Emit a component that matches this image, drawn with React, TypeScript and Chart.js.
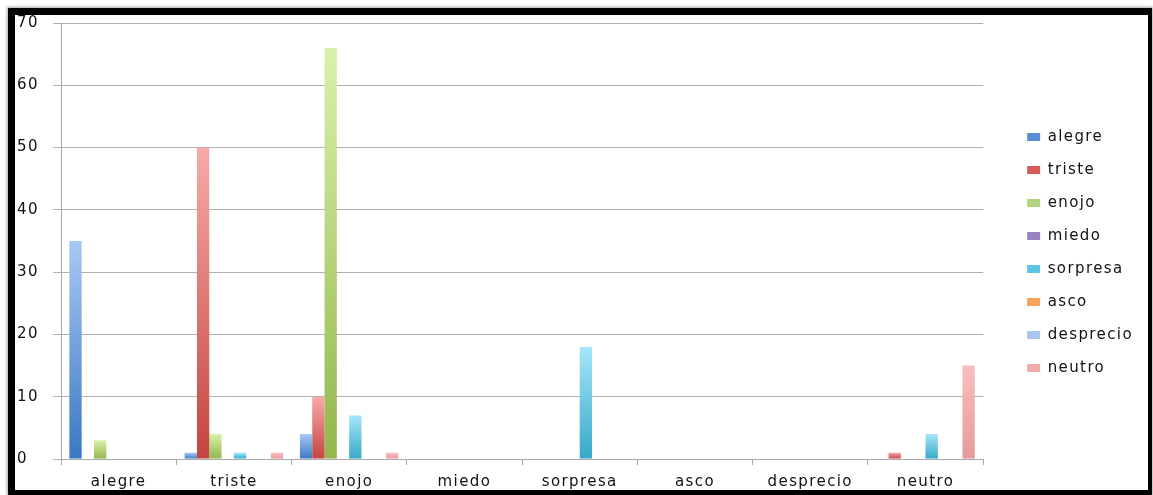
import React, { useEffect, useRef } from "react";
import { Chart, registerables } from "chart.js";

Chart.register(...registerables);

const categories = ["alegre", "triste", "enojo", "miedo", "sorpresa", "asco", "desprecio", "neutro"];
const seriesNames = ["alegre", "triste", "enojo", "miedo", "sorpresa", "asco", "desprecio", "neutro"];

const alegreValues = [35, 1, 4, 0, 0, 0, 0, 0];
const tristeValues = [0, 50, 10, 0, 0, 0, 0, 1];
const enojoValues = [3, 4, 66, 0, 0, 0, 0, 0];
const miedoValues = [0, 0, 0, 0, 0, 0, 0, 0];
const sorpresaValues = [0, 1, 7, 0, 18, 0, 0, 4];
const ascoValues = [0, 0, 0, 0, 0, 0, 0, 0];
const desprecioValues = [0, 0, 0, 0, 0, 0, 0, 0];
const neutroValues = [0, 1, 1, 0, 0, 0, 0, 15];

const seriesValues = [
  alegreValues,
  tristeValues,
  enojoValues,
  miedoValues,
  sorpresaValues,
  ascoValues,
  desprecioValues,
  neutroValues,
];

const topColors = ["#a9c8f4", "#f7aaa8", "#d8f2ab", "#bba6da", "#a6e6fa", "#fcc690", "#cadcf8", "#fabebe"];
const bottomColors = ["#3a78c2", "#c4453f", "#93b64c", "#7659a0", "#36a8c7", "#f0862a", "#8fb1e3", "#e49a9a"];
const legendColors = ["#5b8fd2", "#d65c56", "#b3d37c", "#9a82c2", "#5ec6e2", "#f9a25a", "#aac6ef", "#f2aaaa"];

const yMin = 0;
const yMax = 70;
const yStep = 10;

const FONT = "'DejaVu Sans', sans-serif";
const SPACING = "1.4px";

const spacingPlugin = {
  id: "spacing",
  beforeUpdate(chart: any) {
    chart.ctx.letterSpacing = SPACING;
  },
  beforeLayout(chart: any) {
    chart.ctx.letterSpacing = SPACING;
  },
  beforeDraw(chart: any) {
    chart.ctx.letterSpacing = SPACING;
  },
};

export default function App() {
  const canvasRef = useRef<HTMLCanvasElement | null>(null);

  useEffect(() => {
    if (!canvasRef.current) return;
    const datasets = seriesNames.map((name, i) => ({
      label: name,
      data: seriesValues[i],
      backgroundColor: (ctx: any) => {
        const chart = ctx.chart;
        if (ctx.type !== "data" || !chart.chartArea || !chart.scales.y) return legendColors[i];
        const y = chart.scales.y;
        const top = y.getPixelForValue(ctx.raw);
        const bottom = y.getPixelForValue(0);
        if (bottom - top < 1) return legendColors[i];
        const g = chart.ctx.createLinearGradient(0, top, 0, bottom);
        g.addColorStop(0, topColors[i]);
        g.addColorStop(1, bottomColors[i]);
        return g;
      },
      borderWidth: 0,
      barPercentage: 1,
      categoryPercentage: 0.855,
    }));

    const chart = new Chart(canvasRef.current, {
      type: "bar",
      data: { labels: categories, datasets },
      plugins: [spacingPlugin],
      options: {
        animation: false,
        responsive: true,
        maintainAspectRatio: false,
        layout: { padding: { left: 2, right: 5, top: 0, bottom: 0 } },
        plugins: {
          tooltip: { enabled: false },
          legend: {
            position: "right",
            labels: {
              font: { family: FONT, size: 15 },
              color: "#111",
              boxWidth: 13,
              boxHeight: 8,
              padding: 18,
              generateLabels: () =>
                seriesNames.map((name, i) => ({
                  text: name,
                  fillStyle: legendColors[i],
                  strokeStyle: legendColors[i],
                  lineWidth: 0,
                  hidden: false,
                  datasetIndex: i,
                  fontColor: "#111",
                })),
            },
          },
        },
        scales: {
          x: {
            grid: {
              offset: true,
              drawOnChartArea: false,
              drawTicks: true,
              tickLength: 6,
              color: "#a8a8a8",
            },
            border: { color: "#a8a8a8" },
            ticks: { font: { family: FONT, size: 15 }, color: "#111", padding: 8 },
            afterFit: (s: any) => {
              s.height = 31;
            },
          },
          y: {
            min: yMin,
            max: yMax,
            ticks: {
              stepSize: yStep,
              crossAlign: "far",
              font: { family: FONT, size: 15 },
              color: "#111",
            },
            grid: { color: "#b0b0b0", tickLength: 8 },
            border: { color: "#a8a8a8" },
            afterFit: (s: any) => {
              s.width = 44;
              s.paddingTop = 8;
            },
          },
          y2: {
            position: "right",
            display: true,
            grid: { display: false, drawTicks: false },
            border: { display: false },
            ticks: { display: false },
            afterFit: (s: any) => {
              s.width = 26;
            },
          },
        },
      },
    });
    return () => chart.destroy();
  }, []);

  return (
    <div
      style={{
        position: "fixed",
        left: 8,
        top: 8,
        width: 1144,
        height: 487,
        boxSizing: "border-box",
        borderStyle: "solid",
        borderColor: "#000",
        borderTopWidth: 7,
        borderLeftWidth: 7,
        borderRightWidth: 4,
        borderBottomWidth: 5,
        boxShadow: "0 0 3px 1px rgba(0,0,0,0.35)",
        background: "#fff",
      }}
    >
      <div style={{ position: "relative", width: 1133, height: 475 }}>
        <canvas ref={canvasRef} />
      </div>
    </div>
  );
}
